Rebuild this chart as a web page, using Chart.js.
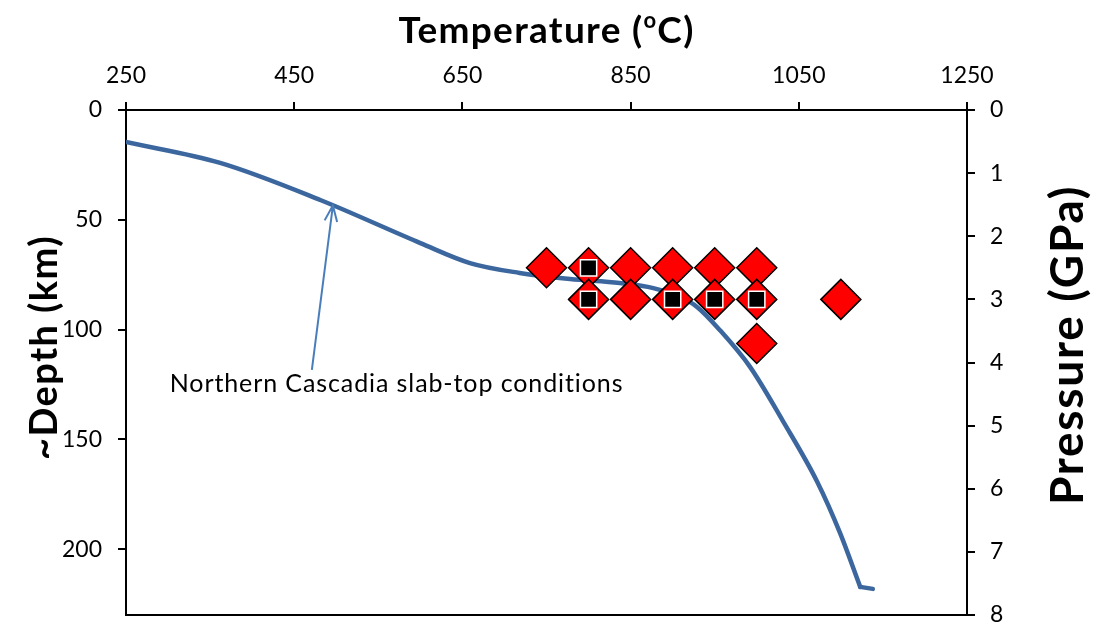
<!DOCTYPE html>
<html>
<head>
<meta charset="utf-8">
<script src="https://cdn.jsdelivr.net/npm/chart.js@4.4.1/dist/chart.umd.min.js"></script>
<style>
body { margin: 0; background: #fff; }
canvas { display: block; }
</style>
</head>
<body>
<canvas id="chart" width="1094" height="623"></canvas>
<script>
// slab-top P-T path (temperature in C, depth in km)
var slabTemp = [250, 362, 481, 600, 659, 718, 778, 837, 877, 909, 929, 956, 992, 1031, 1072, 1099, 1123]
var slabDepth = [14.6, 24.1, 41.0, 60.6, 69.7, 74.2, 77.0, 78.8, 81.1, 85.2, 89.7, 100.2, 117.0, 141.6, 169.4, 192.6, 217.2]
// short flat end of the path
var tailTemp = [1123, 1138]
var tailDepth = [217.2, 218.1]

// experiments (temperature in C, pressure in GPa)
var expTemp = [750, 800, 850, 900, 950, 1000, 800, 850, 900, 950, 1000, 1100, 1000]
var expPressure = [2.5, 2.5, 2.5, 2.5, 2.5, 2.5, 3, 3, 3, 3, 3, 3, 3.7]

// experiments marked with black squares
var markTemp = [800, 800, 900, 950, 1000]
var markPressure = [2.5, 3, 3, 3, 3]

var xTitle = "Temperature (", xTitleSup = "o", xTitleEnd = "C)"
var yTitle = "~Depth (km)"
var y2Title = "Pressure (GPa)"
var noteText = "Northern Cascadia slab-top conditions"

function toPoints(xs, ys) {
    var pts = []
    for (var i = 0; i < xs.length; i++) {
        pts.push({x: xs[i], y: ys[i]})
    }
    return pts
}

// draw text spread out to a given width
function fitText(ctx, text, font, x, y, width) {
    ctx.font = font
    ctx.letterSpacing = "0px"
    var w = ctx.measureText(text).width
    var ls = (width - w) / text.length
    ctx.letterSpacing = ls.toFixed(2) + "px"
    ctx.fillText(text, x, y)
    ctx.letterSpacing = "0px"
}

var tickFont = {family: "Lato", size: 23}
var plainTicks = function(v) { return String(v) }

// fixed axis width, and no extra room for the end labels
function sideFit(s, w) {
    s.width = w
    s.paddingTop = 0
    s.paddingBottom = 0
}

var extras = {
    id: "extras",
    afterDatasetsDraw: function(chart) {
        var ctx = chart.ctx
        var sx = chart.scales.x, sy = chart.scales.y
        // arrow pointing at the slab curve
        var x1 = sx.getPixelForValue(471), y1 = sy.getPixelForValue(118.4)
        var x2 = sx.getPixelForValue(496), y2 = sy.getPixelForValue(43.5)
        ctx.save()
        ctx.strokeStyle = "#4a7ebb"
        ctx.lineWidth = 2
        ctx.beginPath()
        ctx.moveTo(x1, y1)
        ctx.lineTo(x2, y2)
        var ang = Math.atan2(y2 - y1, x2 - x1)
        var len = 17
        ctx.moveTo(x2 + len * Math.cos(ang + Math.PI - 0.38), y2 + len * Math.sin(ang + Math.PI - 0.38))
        ctx.lineTo(x2, y2)
        ctx.lineTo(x2 + len * Math.cos(ang + Math.PI + 0.38), y2 + len * Math.sin(ang + Math.PI + 0.38))
        ctx.stroke()
        ctx.fillStyle = "#000"
        ctx.textBaseline = "middle"
        ctx.textAlign = "left"
        fitText(ctx, noteText, "25px Lato", sx.getPixelForValue(302), sy.getPixelForValue(124.8), 454)
        ctx.restore()
    },
    afterDraw: function(chart) {
        var ctx = chart.ctx
        var area = chart.chartArea
        ctx.save()
        // bottom frame line
        ctx.strokeStyle = "#000"
        ctx.lineWidth = 2
        ctx.beginPath()
        ctx.moveTo(area.left, area.bottom)
        ctx.lineTo(area.right, area.bottom)
        ctx.stroke()

        ctx.fillStyle = "#000"
        ctx.textBaseline = "middle"
        ctx.textAlign = "left"
        var big = "bold 37px Lato", small = "bold 22px Lato"
        ctx.letterSpacing = "1.3px"
        ctx.font = big
        var wa = ctx.measureText(xTitle).width
        var wc = ctx.measureText(xTitleEnd).width
        ctx.font = small
        var wo = ctx.measureText(xTitleSup).width
        var cx = (area.left + area.right) / 2
        var x0 = cx - (wa + wo + wc) / 2
        ctx.font = big
        ctx.fillText(xTitle, x0, 31)
        ctx.font = small
        ctx.fillText(xTitleSup, x0 + wa, 21)
        ctx.font = big
        ctx.fillText(xTitleEnd, x0 + wa + wo, 31)
        ctx.letterSpacing = "0px"

        ctx.save()
        ctx.translate(45, 348)
        ctx.rotate(-Math.PI / 2)
        fitText(ctx, yTitle, "bold 38px Lato", -112, 0, 225)
        ctx.restore()

        ctx.save()
        ctx.translate(1068, 345)
        ctx.rotate(-Math.PI / 2)
        fitText(ctx, y2Title, "bold 46px Lato", -160, 0, 320)
        ctx.restore()
        ctx.restore()
    }
}

var chart = new Chart("chart", {
    type: "scatter",
    data: {
        datasets: [{
            data: toPoints(slabTemp, slabDepth),
            yAxisID: "y",
            showLine: true,
            borderColor: "#3c679e",
            borderWidth: 4.5,
            borderCapStyle: "round",
            pointRadius: 0,
            cubicInterpolationMode: "monotone",
            order: 3
        }, {
            data: toPoints(tailTemp, tailDepth),
            yAxisID: "y",
            showLine: true,
            borderColor: "#3c679e",
            borderWidth: 4.5,
            borderCapStyle: "round",
            pointRadius: 0,
            order: 3
        }, {
            data: toPoints(expTemp, expPressure),
            yAxisID: "y2",
            pointStyle: "rectRot",
            pointRadius: 20,
            backgroundColor: "#ff0000",
            borderColor: "#000",
            borderWidth: 1.5,
            order: 2
        }, {
            data: toPoints(markTemp, markPressure),
            yAxisID: "y2",
            pointStyle: "rect",
            pointRadius: 11.5,
            backgroundColor: "#000",
            borderColor: "#fff",
            borderWidth: 1.5,
            order: 1
        }]
    },
    options: {
        responsive: false,
        animation: false,
        events: [],
        layout: {autoPadding: false, padding: {top: 0, left: 0, right: 0, bottom: 8}},
        plugins: {legend: {display: false}, tooltip: {enabled: false}},
        scales: {
            x: {
                type: "linear",
                position: "top",
                min: 250,
                max: 1250,
                ticks: {stepSize: 200, font: tickFont, color: "#000", padding: 13, includeBounds: false, callback: plainTicks},
                grid: {drawOnChartArea: false, tickLength: 8, color: "#000", lineWidth: 2},
                border: {color: "#000", width: 2},
                afterFit: function(s) { s.height = 110 }
            },
            y: {
                position: "left",
                reverse: true,
                min: 0,
                max: 230,
                ticks: {stepSize: 50, font: tickFont, color: "#000", padding: 16, includeBounds: false, callback: plainTicks},
                grid: {drawOnChartArea: false, tickLength: 8, color: "#000", lineWidth: 2},
                border: {color: "#000", width: 2},
                afterFit: function(s) { sideFit(s, 126) }
            },
            y2: {
                position: "right",
                reverse: true,
                min: 0,
                max: 8,
                ticks: {stepSize: 1, font: tickFont, color: "#000", padding: 15, includeBounds: false, callback: plainTicks},
                grid: {drawOnChartArea: false, tickLength: 8, color: "#000", lineWidth: 2},
                border: {color: "#000", width: 2},
                afterFit: function(s) { sideFit(s, 127) }
            }
        }
    },
    plugins: [extras]
})
</script>
</body>
</html>
